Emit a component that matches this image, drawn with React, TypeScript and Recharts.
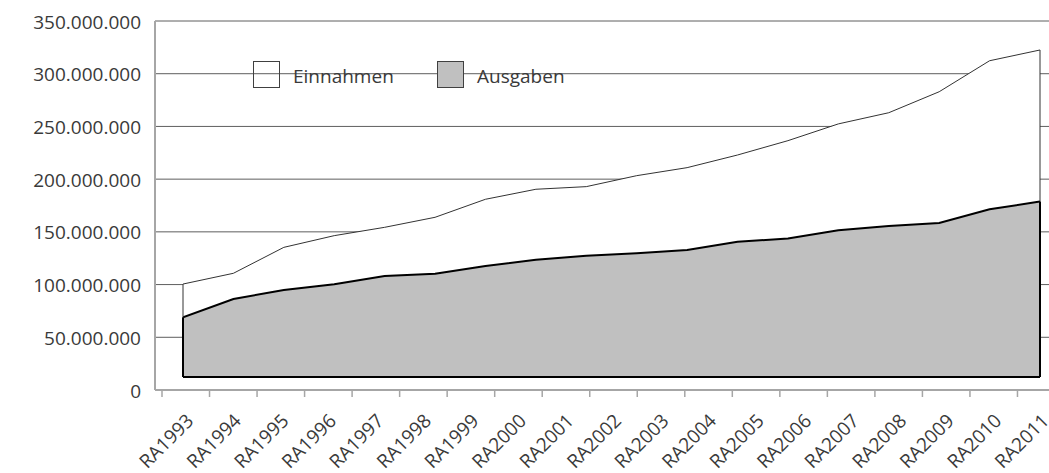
import React from 'react'
import { ComposedChart, Area, XAxis, YAxis, CartesianGrid, Legend, ReferenceLine } from 'recharts'

const FONT = '"Open Sans", "Noto Sans", sans-serif'
const TEXT = '#3a3a3a'
const AXIS = '#a6a6a6'
const GRID = '#5e5e5e'

const years = [
  'RA1993', 'RA1994', 'RA1995', 'RA1996', 'RA1997', 'RA1998', 'RA1999', 'RA2000', 'RA2001', 'RA2002',
  'RA2003', 'RA2004', 'RA2005', 'RA2006', 'RA2007', 'RA2008', 'RA2009', 'RA2010', 'RA2011',
]

// 18 points are drawn in the 3D area, one less than there are labels
const einnahmen = [
  100500000, 110700000, 135300000, 146400000, 154300000, 163800000, 180900000, 190400000, 192900000,
  203300000, 210900000, 222900000, 236500000, 252400000, 263000000, 282900000, 312300000, 322500000,
]
const ausgaben = [
  68900000, 86300000, 94900000, 100200000, 108100000, 110300000, 117600000, 123600000, 127400000,
  129700000, 132800000, 140700000, 143600000, 151500000, 155600000, 158400000, 171400000, 178700000,
]

const yTicks = [0, 50000000, 100000000, 150000000, 200000000, 250000000, 300000000, 350000000]

// floor of the 3D area (depth offset)
const DEPTH_BASE = 12300000

const series = [
  { key: 'einnahmen', name: 'Einnahmen', fill: '#ffffff', swatch: 'transparent', stroke: '#333333', width: 1 },
  { key: 'ausgaben', name: 'Ausgaben', fill: '#c0c0c0', swatch: '#c0c0c0', stroke: '#000000', width: 2 },
]

const rows = years.map((label, i) => ({
  label,
  idx: i,
  einnahmen: i < einnahmen.length ? einnahmen[i] : null,
  ausgaben: i < ausgaben.length ? ausgaben[i] : null,
}))

const W = 1072
const H = 473
const Y_AXIS_W = 155
const CAT_PAD = 7
const STEP = (W - Y_AXIS_W - 2 * CAT_PAD) / years.length
const last = einnahmen.length - 1

const fmt = (v: number) => String(v).replace(/\B(?=(\d{3})+(?!\d))/g, '.')

function YTick({ x, y, payload }: any) {
  return (
    <text x={x} y={y} dy="0.4em" textAnchor="end" fill={TEXT} fontSize={19} fontFamily={FONT}>
      {fmt(payload.value)}
    </text>
  )
}

function XTick({ x, y, payload }: any) {
  const tx = x + 9
  const ty = y + 32
  return (
    <g>
      <line x1={x - STEP / 2} x2={x - STEP / 2} y1={y} y2={y + 7} stroke={AXIS} strokeWidth={1.5} />
      <text
        x={tx}
        y={ty}
        transform={`rotate(-45 ${tx} ${ty})`}
        textAnchor="end"
        fill={TEXT}
        fontSize={19}
        fontFamily={FONT}
      >
        {payload.value}
      </text>
    </g>
  )
}

const renderLegend = () => (
  <div style={{ display: 'flex', alignItems: 'center', fontFamily: FONT, fontSize: 19, color: TEXT }}>
    {series.map((s) => (
      <div key={s.key} style={{ display: 'flex', alignItems: 'center', width: 184 }}>
        <span
          style={{
            width: 27,
            height: 27,
            boxSizing: 'border-box',
            border: '1.5px solid #404040',
            background: s.swatch,
            marginRight: 13,
          }}
        />
        <span style={{ position: 'relative', top: 1 }}>{s.name}</span>
      </div>
    ))}
  </div>
)

export default function App() {
  return (
    <div style={{ position: 'absolute', left: 0, top: 0, width: 1049, height: 473, overflow: 'hidden', background: '#fff' }}>
      <ComposedChart width={W} height={H} data={rows} margin={{ top: 21, right: 0, bottom: 0, left: 0 }}>
        <CartesianGrid vertical={false} stroke={GRID} />
        <XAxis
          dataKey="label"
          type="category"
          scale="band"
          padding={{ left: CAT_PAD, right: CAT_PAD }}
          height={83}
          tickSize={0}
          tickMargin={0}
          tickLine={false}
          axisLine={{ stroke: AXIS, strokeWidth: 2 }}
          tick={<XTick />}
          interval={0}
        />
        <XAxis
          xAxisId="area"
          dataKey="idx"
          type="number"
          domain={[0, last]}
          allowDataOverflow
          padding={{ left: 28, right: 32 }}
          hide
        />
        <YAxis
          width={Y_AXIS_W}
          domain={[0, 350000000]}
          ticks={yTicks}
          interval={0}
          tickSize={0}
          tickMargin={14}
          tickLine={false}
          axisLine={{ stroke: AXIS, strokeWidth: 2 }}
          tick={<YTick />}
        />
        <Legend
          layout="horizontal"
          verticalAlign="middle"
          align="center"
          content={renderLegend}
          wrapperStyle={{ left: 253, top: 61, width: 'auto' }}
        />
        {series.map((s) => (
          <Area
            key={s.key}
            xAxisId="area"
            name={s.name}
            dataKey={(d: any) => (d[s.key] == null ? null : [DEPTH_BASE, d[s.key]])}
            type="linear"
            fill={s.fill}
            fillOpacity={1}
            stroke={s.stroke}
            strokeWidth={s.width}
            dot={false}
            activeDot={false}
            isAnimationActive={false}
          />
        ))}
        {/* side walls of the areas */}
        <ReferenceLine xAxisId="area" segment={[{ x: 0, y: ausgaben[0] }, { x: 0, y: einnahmen[0] }]} stroke="#333333" />
        <ReferenceLine xAxisId="area" segment={[{ x: last, y: ausgaben[last] }, { x: last, y: einnahmen[last] }]} stroke="#333333" />
        <ReferenceLine xAxisId="area" segment={[{ x: 0, y: DEPTH_BASE }, { x: 0, y: ausgaben[0] }]} stroke="#000" strokeWidth={2} />
        <ReferenceLine xAxisId="area" segment={[{ x: last, y: DEPTH_BASE }, { x: last, y: ausgaben[last] }]} stroke="#000" strokeWidth={2} />
      </ComposedChart>
    </div>
  )
}
